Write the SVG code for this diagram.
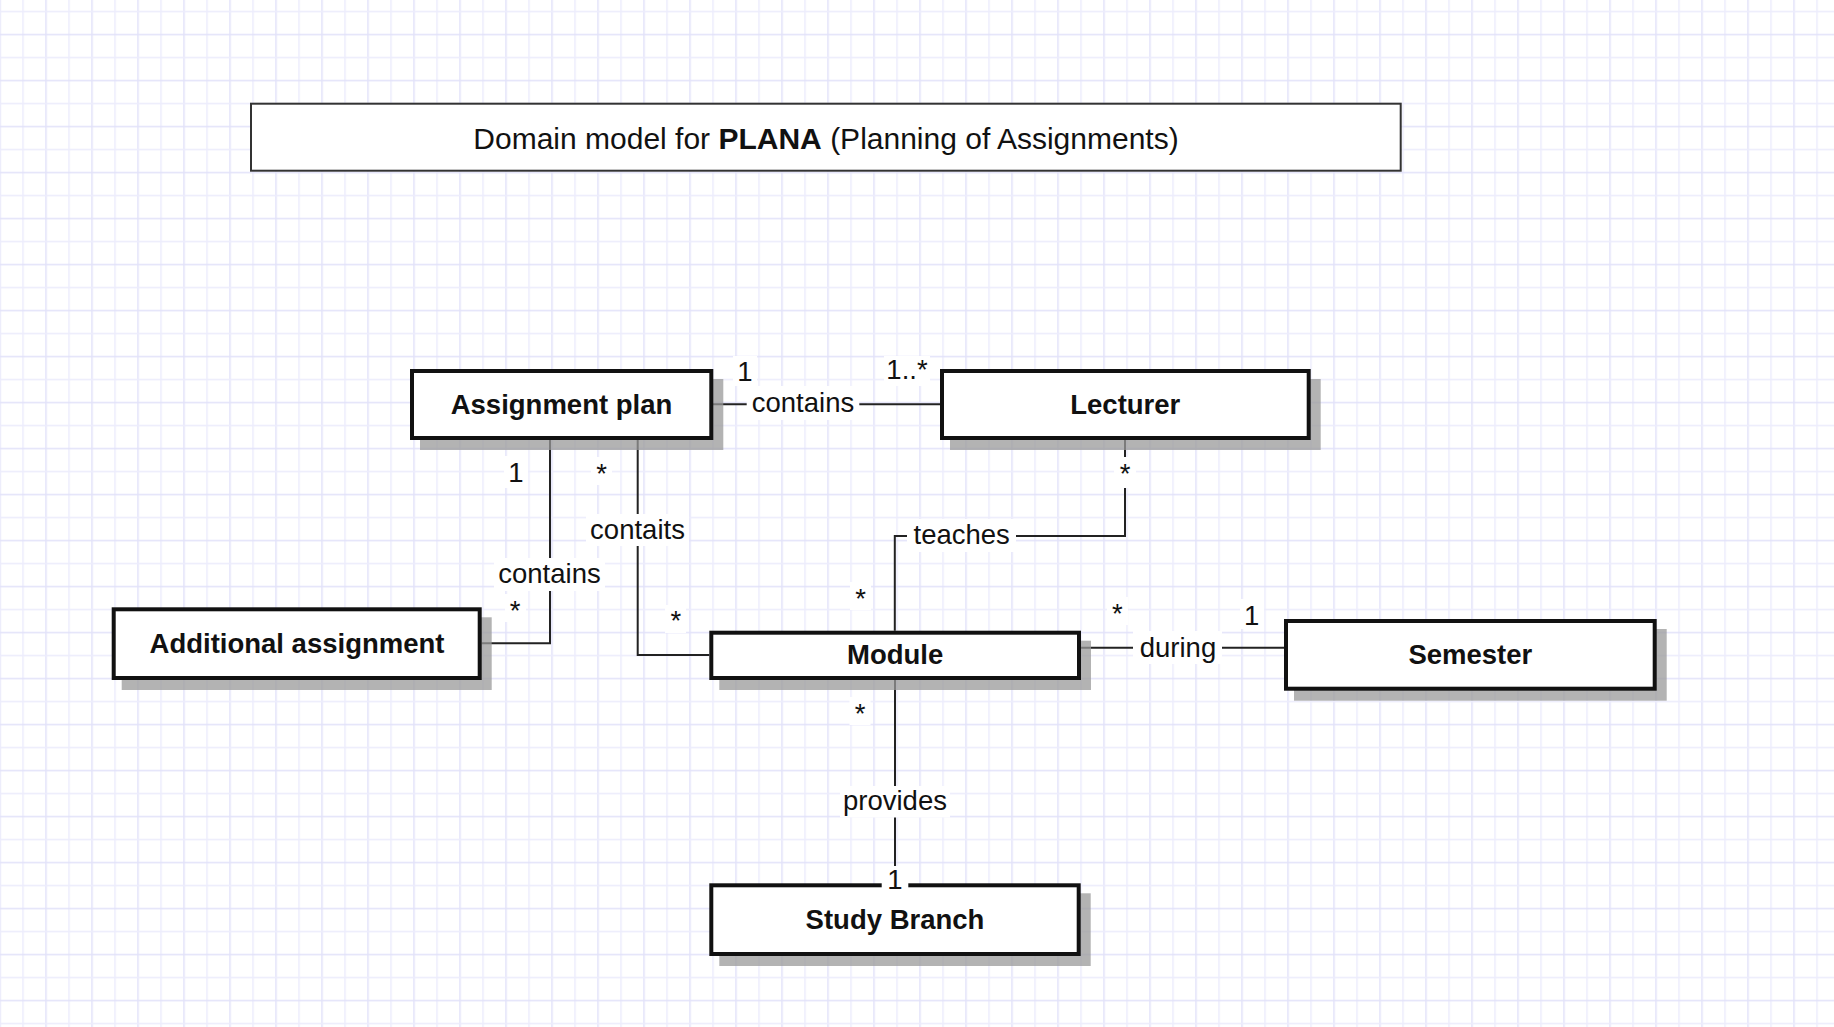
<svg xmlns="http://www.w3.org/2000/svg" width="1834" height="1027" viewBox="0 0 1834 1027">
<defs>
<pattern id="grid" patternUnits="userSpaceOnUse" x="-0.75" y="10.75" width="46" height="46">
<rect x="0" y="0" width="1.5" height="46" fill="#e2e2f9"/>
<rect x="23" y="0" width="1.5" height="46" fill="#ececfc"/>
<rect x="0" y="0" width="46" height="1.5" fill="#ececfc"/>
<rect x="0" y="23" width="46" height="1.5" fill="#e2e2f9"/>
</pattern>
</defs>
<style>
.box{fill:#ffffff;stroke:#111111;stroke-width:4}
.shadow{fill:#999999;opacity:0.75}
.name{font-family:"Liberation Sans",Arial,sans-serif;font-size:27.5px;font-weight:bold;fill:#111111;text-anchor:middle}
.lbl{font-family:"Liberation Sans",Arial,sans-serif;font-size:27.5px;fill:#111111;text-anchor:middle}
.bg{fill:#ffffff}
.edge{fill:none;stroke:#222222;stroke-width:2}
.title{font-family:"Liberation Sans",Arial,sans-serif;font-size:30px;fill:#111111;text-anchor:middle}
</style>
<rect x="0" y="0" width="1834" height="1027" fill="#ffffff"/>
<rect x="0" y="0" width="1834" height="1027" fill="url(#grid)"/>

<g id="title">
<rect x="251" y="103.7" width="1149.7" height="67" fill="#ffffff" stroke="#333333" stroke-width="2"/>
<text class="title" x="826" y="148.5">Domain model for <tspan font-weight="bold">PLANA</tspan> (Planning of Assignments)</text>
</g>

<g id="connectors">
<path class="edge" d="M713 404.3 H940"/>
<path class="edge" d="M550 440 V643.3 H481.7"/>
<path class="edge" d="M637.7 440 V655 H709.3"/>
<path class="edge" d="M1125 440 V536 H894.8 V630.7"/>
<path class="edge" d="M1081 647.8 H1284"/>
<path class="edge" d="M895 680 V883.3"/>
</g>

<g id="node-assignment-plan">
<rect class="shadow" x="420" y="379" width="303.3" height="71"/>
<rect class="box" x="412" y="371" width="299.3" height="67"/>
<text class="name" x="561.5" y="413.7">Assignment plan</text>
</g>
<g id="node-lecturer">
<rect class="shadow" x="950" y="379" width="370.7" height="71"/>
<rect class="box" x="942" y="371" width="366.7" height="67"/>
<text class="name" x="1125.3" y="413.7">Lecturer</text>
</g>
<g id="node-additional-assignment">
<rect class="shadow" x="121.7" y="617.3" width="370" height="72.7"/>
<rect class="box" x="113.7" y="609.3" width="366" height="68.7"/>
<text class="name" x="297" y="653.3">Additional assignment</text>
</g>
<g id="node-module">
<rect class="shadow" x="719.3" y="640.7" width="371.7" height="49.3"/>
<rect class="box" x="711.3" y="632.7" width="367.7" height="45.3"/>
<text class="name" x="895.2" y="663.5">Module</text>
</g>
<g id="node-semester">
<rect class="shadow" x="1294" y="629" width="372.7" height="71.7"/>
<rect class="box" x="1286" y="621" width="368.7" height="67.7"/>
<text class="name" x="1470.3" y="664">Semester</text>
</g>
<g id="node-study-branch">
<rect class="shadow" x="719.3" y="893.3" width="371.4" height="72.7"/>
<rect class="box" x="711.3" y="885.3" width="367.4" height="68.7"/>
<text class="name" x="895" y="928.5">Study Branch</text>
</g>

<g id="labels">
<rect class="bg" x="746.7" y="386" width="112.6" height="34"/>
<text class="lbl" x="803" y="412.3">contains</text>
<rect class="bg" x="733" y="356" width="24" height="30"/>
<text class="lbl" x="745" y="380.5">1</text>
<rect class="bg" x="884" y="356" width="46" height="30"/>
<text class="lbl" x="907" y="379">1..*</text>

<rect class="bg" x="494" y="558" width="111" height="33"/>
<text class="lbl" x="549.5" y="583.3">contains</text>
<rect class="bg" x="504" y="456" width="24" height="32"/>
<text class="lbl" x="516" y="481.7">1</text>
<rect class="bg" x="505" y="594" width="21" height="28"/>
<text class="lbl" x="515" y="619.7">*</text>

<rect class="bg" x="586" y="514" width="103" height="32"/>
<text class="lbl" x="637.5" y="539">contaits</text>
<rect class="bg" x="591" y="457" width="21" height="28"/>
<text class="lbl" x="601.7" y="482.7">*</text>
<rect class="bg" x="665" y="605" width="21" height="28"/>
<text class="lbl" x="675.8" y="630.4">*</text>

<rect class="bg" x="907" y="519" width="109" height="33"/>
<text class="lbl" x="961.7" y="544.3">teaches</text>
<rect class="bg" x="1114" y="457" width="22" height="31"/>
<text class="lbl" x="1125" y="483">*</text>
<rect class="bg" x="850" y="582" width="21" height="28"/>
<text class="lbl" x="860.5" y="607.7">*</text>

<rect class="bg" x="1133" y="631" width="89" height="33"/>
<text class="lbl" x="1178" y="656.5">during</text>
<rect class="bg" x="1107" y="597" width="21" height="28"/>
<text class="lbl" x="1117.3" y="623">*</text>
<rect class="bg" x="1240" y="599" width="24" height="30"/>
<text class="lbl" x="1251.7" y="624.5">1</text>

<rect class="bg" x="840" y="786" width="110" height="31.5"/>
<text class="lbl" x="895" y="810">provides</text>
<rect class="bg" x="849.5" y="697" width="21" height="28"/>
<text class="lbl" x="860" y="723">*</text>
<rect class="bg" x="881.7" y="866" width="26.6" height="26"/>
<text class="lbl" x="895" y="889.3">1</text>
</g>
</svg>
